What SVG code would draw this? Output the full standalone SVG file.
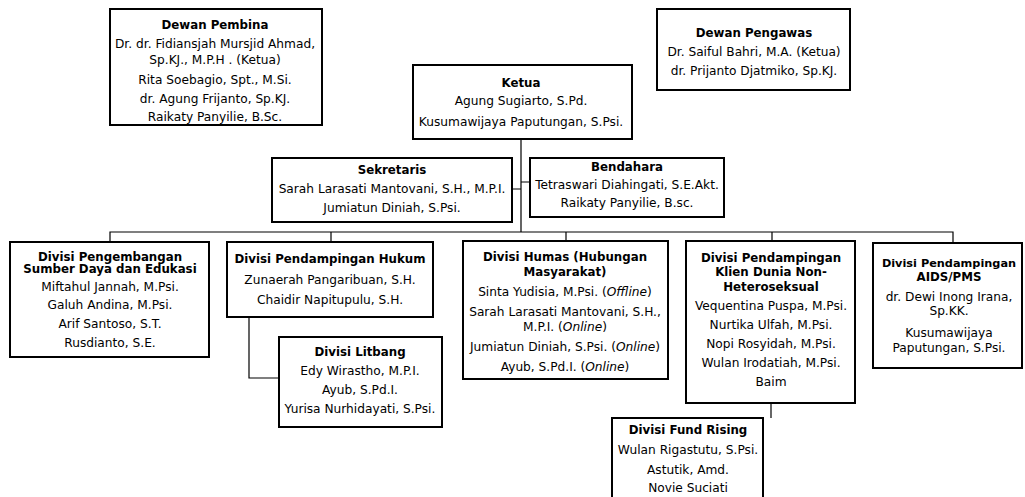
<svg xmlns="http://www.w3.org/2000/svg" width="1025" height="497" viewBox="0 0 1025 497">
<style>
.box{fill:#fff;stroke:#000;stroke-width:2}
.t{font-family:"DejaVu Sans",Verdana,sans-serif;font-size:12.2px;fill:#000;text-anchor:middle}
.h{font-family:"DejaVu Sans",Verdana,sans-serif;font-size:11.8px;font-weight:bold;fill:#000;text-anchor:middle}
.hs{font-size:11.3px}
.i{font-style:italic}
.c{fill:none;stroke:#000;stroke-width:1.2}
</style>
<rect width="1025" height="497" fill="#fff"/>
<g id="connectors">
<path class="c" d="M521 139V232M110 242V232H953V243M331 232V242M566 232V241M772 232V241"/>
<path class="c" d="M512 189H521M521 182H530"/>
<path class="c" d="M249 317V378H279"/>
<path class="c" d="M771 403V418"/>
</g>
<g id="dewan-pembina">
<rect class="box" x="110" y="9" width="212" height="116"/>
<text class="h" x="215" y="29">Dewan Pembina</text>
<text class="t" x="215" y="48">Dr. dr. Fidiansjah Mursjid Ahmad,</text>
<text class="t" x="215" y="64">Sp.KJ., M.P.H . (Ketua)</text>
<text class="t" x="215" y="84">Rita Soebagio, Spt., M.Si.</text>
<text class="t" x="215" y="103">dr. Agung Frijanto, Sp.KJ.</text>
<text class="t" x="215" y="121">Raikaty Panyilie, B.Sc.</text>
</g>
<g id="dewan-pengawas">
<rect class="box" x="657" y="9" width="193" height="81"/>
<text class="h" x="754" y="37">Dewan Pengawas</text>
<text class="t" x="754" y="56">Dr. Saiful Bahri, M.A. (Ketua)</text>
<text class="t" x="754" y="75">dr. Prijanto Djatmiko, Sp.KJ.</text>
</g>
<g id="ketua">
<rect class="box" x="413" y="65" width="219" height="74"/>
<text class="h" x="521" y="87">Ketua</text>
<text class="t" x="521" y="105">Agung Sugiarto, S.Pd.</text>
<text class="t" x="521" y="126">Kusumawijaya Paputungan, S.Psi.</text>
</g>
<g id="sekretaris">
<rect class="box" x="272" y="158" width="240" height="64"/>
<text class="h" x="392" y="174">Sekretaris</text>
<text class="t" x="392" y="193">Sarah Larasati Mantovani, S.H., M.P.I.</text>
<text class="t" x="392" y="212">Jumiatun Diniah, S.Psi.</text>
</g>
<g id="bendahara">
<rect class="box" x="530" y="158" width="194" height="59"/>
<text class="h" x="627" y="171">Bendahara</text>
<text class="t" x="627" y="189">Tetraswari Diahingati, S.E.Akt.</text>
<text class="t" x="627" y="207">Raikaty Panyilie, B.sc.</text>
</g>
<g id="divisi-pengembangan">
<rect class="box" x="10" y="242" width="199" height="115"/>
<text class="h" x="110" y="261">Divisi Pengembangan</text>
<text class="h" x="110" y="273">Sumber Daya dan Edukasi</text>
<text class="t" x="110" y="291">Miftahul Jannah, M.Psi.</text>
<text class="t" x="110" y="309">Galuh Andina, M.Psi.</text>
<text class="t" x="110" y="328">Arif Santoso, S.T.</text>
<text class="t" x="110" y="347">Rusdianto, S.E.</text>
</g>
<g id="divisi-hukum">
<rect class="box" x="227" y="242" width="206" height="75"/>
<text class="h" x="330" y="263">Divisi Pendampingan Hukum</text>
<text class="t" x="330" y="284">Zunaerah Pangaribuan, S.H.</text>
<text class="t" x="330" y="304">Chaidir Napitupulu, S.H.</text>
</g>
<g id="divisi-litbang">
<rect class="box" x="279" y="337" width="163" height="90"/>
<text class="h" x="360" y="356">Divisi Litbang</text>
<text class="t" x="360" y="375">Edy Wirastho, M.P.I.</text>
<text class="t" x="360" y="394">Ayub, S.Pd.I.</text>
<text class="t" x="360" y="413">Yurisa Nurhidayati, S.Psi.</text>
</g>
<g id="divisi-humas">
<rect class="box" x="463" y="241" width="205" height="138"/>
<text class="h" x="565" y="261">Divisi Humas (Hubungan</text>
<text class="h" x="565" y="276">Masyarakat)</text>
<text class="t" x="565" y="296">Sinta Yudisia, M.Psi. (<tspan class="i">Offline</tspan>)</text>
<text class="t" x="565" y="316">Sarah Larasati Mantovani, S.H.,</text>
<text class="t" x="565" y="331">M.P.I. (<tspan class="i">Online</tspan>)</text>
<text class="t" x="565" y="351">Jumiatun Diniah, S.Psi. (<tspan class="i">Online</tspan>)</text>
<text class="t" x="565" y="371">Ayub, S.Pd.I. (<tspan class="i">Online</tspan>)</text>
</g>
<g id="divisi-klien">
<rect class="box" x="686" y="241" width="169" height="162"/>
<text class="h" x="771" y="262">Divisi Pendampingan</text>
<text class="h" x="771" y="276">Klien Dunia Non-</text>
<text class="h" x="771" y="291">Heteroseksual</text>
<text class="t" x="771" y="310">Vequentina Puspa, M.Psi.</text>
<text class="t" x="771" y="329">Nurtika Ulfah, M.Psi.</text>
<text class="t" x="771" y="348">Nopi Rosyidah, M.Psi.</text>
<text class="t" x="771" y="367">Wulan Irodatiah, M.Psi.</text>
<text class="t" x="771" y="386">Baim</text>
</g>
<g id="divisi-aids">
<rect class="box" x="873" y="243" width="149" height="125"/>
<text class="h hs" x="949" y="267">Divisi Pendampingan</text>
<text class="h" x="949" y="281">AIDS/PMS</text>
<text class="t" x="949" y="301">dr. Dewi Inong Irana,</text>
<text class="t" x="949" y="315">Sp.KK.</text>
<text class="t" x="949" y="337">Kusumawijaya</text>
<text class="t" x="949" y="352">Paputungan, S.Psi.</text>
</g>
<g id="divisi-fund-rising">
<rect class="box" x="612" y="418" width="151" height="82"/>
<text class="h" x="688" y="434">Divisi Fund Rising</text>
<text class="t" x="688" y="454">Wulan Rigastutu, S.Psi.</text>
<text class="t" x="688" y="474">Astutik, Amd.</text>
<text class="t" x="688" y="492">Novie Suciati</text>
</g>
</svg>
